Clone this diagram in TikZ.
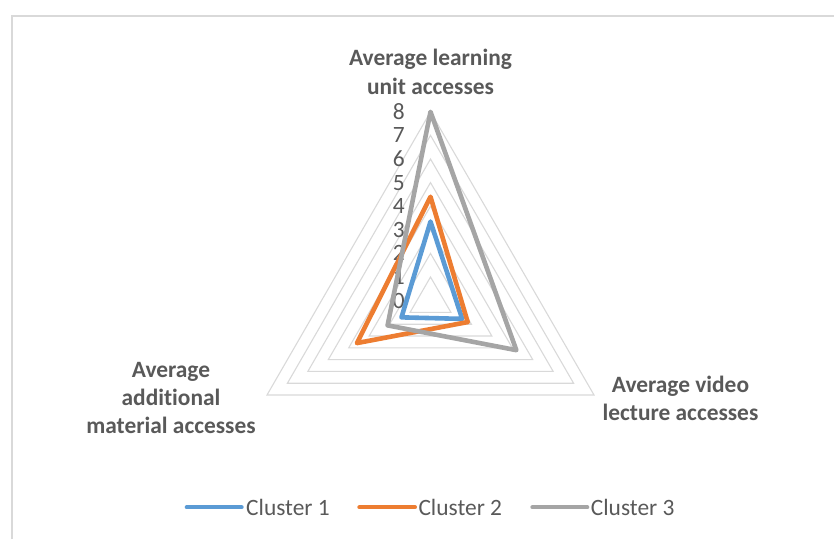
\documentclass[tikz,border=0pt]{standalone}
\usepackage{fontspec}
\setmainfont{Carlito}[Ligatures=NoCommon]
\usepackage{tikz}

\definecolor{gridgrey}{HTML}{D9D9D9}
\definecolor{txtgrey}{HTML}{595959}
\definecolor{cblue}{HTML}{5B9BD5}
\definecolor{corange}{HTML}{ED7D31}
\definecolor{cgrey}{HTML}{A5A5A5}

\tikzset{
	gridline/.style={draw=gridgrey, line width=1.1pt},
	serie/.style={line width=4.6pt, line join=round, line cap=round},
	lbl/.style={text=txtgrey, font=\fontsize{23.4}{28.4}\selectfont, inner sep=0pt},
	axlbl/.style={lbl, font=\fontsize{23.4}{28.4}\selectfont\bfseries, align=center, anchor=north}
}

\begin{document}
\begin{tikzpicture}[x=1pt,y=1pt]
	\useasboundingbox (0,0) rectangle (834,539);
	\draw[gridline] (12,0) -- (12,523) -- (834,523);

	\begin{scope}[shift={(430.5,238.4)}]
		\def\u{23.6}
		\foreach \k in {1,...,8}
			\draw[gridline] (90:\k*\u) -- (-30:\k*\u) -- (210:\k*\u) -- cycle;
		\foreach \k in {0,...,8}
			\node[lbl, anchor=east] (tick\k) at (-25.5,\k*\u) {\k};

		\draw[serie, cblue] (90:3.35*\u) -- (-30:1.55*\u) -- (210:1.42*\u) -- cycle;
		\draw[serie, corange] (90:4.4*\u) -- (-30:1.82*\u) -- (210:3.6*\u) -- cycle;
		\draw[serie, cgrey] (90:8*\u) -- (-30:4.2*\u) -- (210:2.1*\u) -- cycle;
	\end{scope}

	\node[axlbl] (learning) at (430.5,490) {Average learning\\unit accesses};
	\node[axlbl] (video) at (680.5,163.3) {Average video\\lecture accesses};
	\node[axlbl] (material) at (171,177.3) {Average\\additional\\material accesses};

	% legend
	\draw[serie, cblue, line width=4pt] (186.7,31.7) -- (241.7,31.7);
	\node[lbl, anchor=west] (leg1) at (246,31.7) {Cluster 1};
	\draw[serie, corange, line width=4pt] (359.3,31.7) -- (415,31.7);
	\node[lbl, anchor=west] (leg2) at (418.3,31.7) {Cluster 2};
	\draw[serie, cgrey, line width=4pt] (532.3,31.7) -- (587.3,31.7);
	\node[lbl, anchor=west] (leg3) at (590.7,31.7) {Cluster 3};
\end{tikzpicture}
\end{document}
